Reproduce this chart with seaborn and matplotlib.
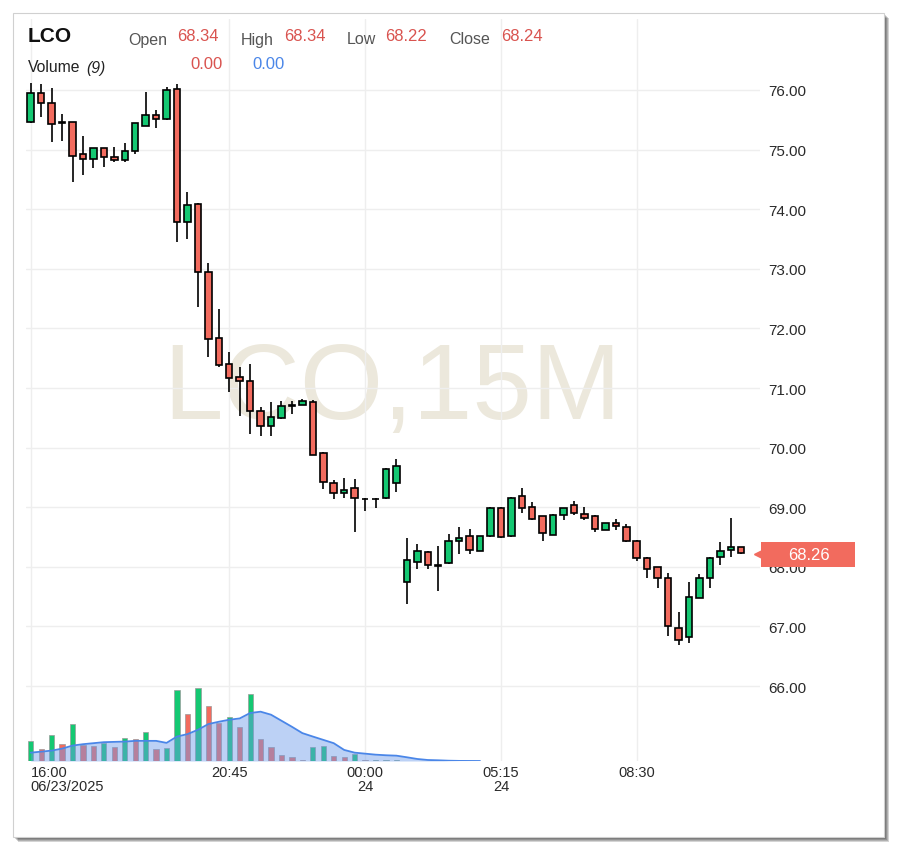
import numpy as np
import pandas as pd
import matplotlib
matplotlib.use("Agg")
import matplotlib.pyplot as plt
import matplotlib.transforms as mtransforms
from matplotlib.patches import Rectangle
import seaborn as sns

# 15 minute bars, LCO
opens = [75.47, 75.95, 75.78, 75.46, 75.46, 74.93, 74.85, 75.02, 74.88, 74.83,
         74.97, 75.40, 75.58, 75.51, 76.02, 73.78, 74.09, 72.95, 71.84, 71.40,
         71.19, 71.12, 70.61, 70.36, 70.49, 70.71, 70.72, 70.77, 69.91, 69.40,
         69.24, 69.32, 69.14, 69.14, 69.15, 69.40, 67.75, 68.08, 68.25, 68.03,
         68.06, 68.43, 68.52, 68.27, 68.51, 68.99, 68.51, 69.19, 69.01, 68.85,
         68.54, 68.87, 69.04, 68.89, 68.85, 68.62, 68.73, 68.66, 68.44, 68.15,
         67.99, 67.81, 66.97, 66.83, 67.48, 67.82, 68.17, 68.29, 68.34]
highs = [76.12, 76.10, 76.03, 75.60, 75.47, 75.22, 75.03, 75.03, 75.04, 75.11,
         75.45, 75.97, 75.67, 76.05, 76.10, 74.29, 74.10, 73.09, 72.33, 71.60,
         71.35, 71.41, 70.68, 70.77, 70.79, 70.79, 70.81, 70.80, 69.93, 69.45,
         69.49, 69.47, 69.15, 69.15, 69.65, 69.81, 68.49, 68.38, 68.26, 68.35,
         68.55, 68.66, 68.63, 68.52, 69.00, 69.00, 69.17, 69.33, 69.09, 68.86,
         68.88, 68.99, 69.10, 69.00, 68.87, 68.74, 68.80, 68.71, 68.45, 68.16,
         68.00, 67.89, 67.25, 67.75, 67.88, 68.16, 68.41, 68.82, 68.34]
lows = [75.45, 75.55, 75.13, 75.15, 74.45, 74.57, 74.69, 74.70, 74.79, 74.80,
        74.92, 75.40, 75.36, 75.50, 73.45, 73.50, 72.36, 71.52, 71.36, 70.93,
        70.53, 70.23, 70.20, 70.20, 70.48, 70.56, 70.71, 69.87, 69.31, 69.13,
        69.15, 68.59, 68.93, 68.98, 69.14, 69.26, 67.38, 67.97, 67.97, 67.59,
        68.05, 68.21, 68.21, 68.26, 68.50, 68.49, 68.50, 68.91, 68.79, 68.43,
        68.53, 68.79, 68.87, 68.79, 68.58, 68.61, 68.62, 68.42, 68.09, 67.81,
        67.65, 66.84, 66.69, 66.73, 67.47, 67.65, 68.03, 68.17, 68.22]
closes = [75.95, 75.78, 75.43, 75.44, 74.90, 74.85, 75.02, 74.87, 74.83, 74.98,
          75.44, 75.58, 75.51, 76.00, 73.78, 74.07, 72.95, 71.83, 71.39, 71.17,
          71.12, 70.61, 70.36, 70.52, 70.70, 70.70, 70.79, 69.88, 69.43, 69.24,
          69.29, 69.15, 69.13, 69.13, 69.64, 69.69, 68.11, 68.27, 68.03, 68.02,
          68.43, 68.49, 68.29, 68.51, 68.99, 68.50, 69.15, 68.98, 68.80, 68.57,
          68.87, 68.98, 68.91, 68.82, 68.63, 68.73, 68.68, 68.43, 68.14, 67.96,
          67.81, 67.01, 66.78, 67.49, 67.82, 68.15, 68.27, 68.34, 68.24]
volume = [20, 12, 26, 17, 37, 16, 15, 18, 14, 23,
          22, 29, 12, 13, 71, 47, 73, 55, 38, 44,
          34, 67, 22, 14, 6, 4, 1, 14, 15, 5,
          4, 7, 1, 1, 1, 1] + [0] * 33
vol_ma = [8.3, 9.3, 10.3, 12.3, 15.3, 16.7, 17.7, 18.7, 19.0, 19.3,
          20.0, 20.0, 20.0, 18.0, 24.3, 26.7, 31.0, 36.7, 39.0, 41.0,
          42.3, 47.7, 49.0, 46.0, 40.0, 34.0, 27.7, 24.3, 21.0, 17.7,
          11.0, 8.3, 7.3, 6.3, 5.7, 5.3, 3.7, 2.0, 1.0, 0.7,
          0.3, 0.1, 0.05, 0.0] + [np.nan] * 25
tick_pos = [0, 19, 32, 45, 58]
tick_labels = ["16:00\n06/23/2025", "20:45", "00:00\n24", "05:15\n24", "08:30"]
last_price = 68.26
header = [("Open", 68.34), ("High", 68.34), ("Low", 68.22), ("Close", 68.24)]

df = pd.DataFrame({"open": opens, "high": highs, "low": lows, "close": closes,
                   "volume": volume, "vol_ma": vol_ma})
df["i"] = np.arange(len(df))

GREEN = "#14c872"
RED = "#f26b5e"

sns.set_theme(style="white")
plt.rcParams["font.family"] = ["Liberation Sans", "DejaVu Sans"]

fig = plt.figure(figsize=(9, 8.54), dpi=100)

# card with drop shadow
for k in range(1, 6):
    fig.add_artist(Rectangle((13 / 900 + k / 900, 1 - 838 / 854 - k / 854), 871 / 900, 824 / 854,
                             transform=fig.transFigure, facecolor="black", alpha=0.17,
                             edgecolor="none", zorder=-3))
fig.add_artist(Rectangle((13 / 900, 1 - 838 / 854), 871 / 900, 824 / 854, transform=fig.transFigure,
                         facecolor="white", edgecolor="#d0d0d0", linewidth=0.8, zorder=-2))

ax = fig.add_axes([25.5 / 900, 92 / 854, 734 / 900, 742 / 854])
ax.set_facecolor("none")
ax.set_xlim(-0.5, 69.75)
ax.set_ylim(64.742, 77.191)

# candles
up = df["close"] >= df["open"]
body_col = np.where(up, GREEN, RED)
ax.vlines(df["i"], df["low"], df["high"], color="black", linewidth=1.2, zorder=2)
ax.bar(df["i"], (df["close"] - df["open"]).abs().clip(lower=0.01),
       bottom=df[["open", "close"]].min(axis=1), width=0.62,
       color=body_col, edgecolor="black", linewidth=1.2, zorder=3)

# watermark
ax.text(0.5, 0.5, "LCO,15M", transform=ax.transAxes, ha="center", va="center",
        fontsize=77, color="#ece8dc", zorder=0.3)

# volume pane
axv = ax.twinx()
axv.set_ylim(0, max(volume) * 10.1)
vol_col = [GREEN if j == 0 or volume[j] >= volume[j - 1] else RED for j in range(len(volume))]
axv.bar(df["i"], df["volume"], width=0.5, color=vol_col, edgecolor="#9a9a9a",
        linewidth=0.5, zorder=1)
axv.fill_between(df["i"], df["vol_ma"], 0, color="#6c9beb", alpha=0.45, linewidth=0, zorder=2)
sns.lineplot(x=df["i"], y=df["vol_ma"], ax=axv, color="#4a86e8", linewidth=1.3, zorder=3)
axv.set_yticks([])
axv.set_ylabel("")
axv.set_xlabel("")
for s in axv.spines.values():
    s.set_visible(False)

# price axis on the right (after twinx, which moves it left)
ax.yaxis.tick_right()
ax.set_yticks(np.arange(66, 77))
ax.set_yticklabels([f"{v:.2f}" for v in np.arange(66, 77)])
ax.set_xticks(tick_pos)
ax.set_xticklabels(tick_labels, linespacing=0.95)
ax.set_xlabel("")
lab0 = ax.get_xticklabels()[0]
lab0.set_horizontalalignment("left")
lab0.set_multialignment("left")
ax.tick_params(axis="y", length=0, pad=6, labelsize=11, labelcolor="#2a2a2a",
               left=False, labelleft=False, right=False, labelright=True)
ax.tick_params(axis="x", length=0, pad=3, labelsize=10.5, labelcolor="#2a2a2a")
ax.grid(True, color="#eeeeee", linewidth=1)
for s in ax.spines.values():
    s.set_visible(False)

# last price tag
tag_tr = mtransforms.blended_transform_factory(axv.transAxes, ax.transData)
tag_y = last_price - 0.05
axv.add_patch(Rectangle((1.0027, tag_y - 0.206), 0.128, 0.413, transform=tag_tr,
                        facecolor=RED, edgecolor="none", clip_on=False, zorder=5))
axv.plot([0.998], [tag_y], marker="<", markersize=6, color=RED, transform=tag_tr,
         clip_on=False, zorder=5)
axv.text(1.068, tag_y, f"{last_price:.2f}", transform=tag_tr,
         ha="center", va="center", color="white", fontsize=12, zorder=6)

# header
fig.text(28 / 900, 1 - 37 / 854, "LCO", fontsize=15, weight="bold", color="#111111", va="center")
label_x = [128, 240.5, 347, 449]
value_x = [177, 284, 385.5, 501]
for (name, val), lx, vx in zip(header, label_x, value_x):
    fig.text(lx / 900, 1 - 40 / 854, name, fontsize=11.5, color="#555555", va="center")
    fig.text(vx / 900, 1 - 36.5 / 854, f"{val:.2f}", fontsize=12, color="#d9534f", va="center")
fig.text(28 / 900, 1 - 68 / 854, "Volume", fontsize=11.3, color="#222222", va="center")
fig.text(86.5 / 900, 1 - 68 / 854, "(9)", fontsize=11.3, style="italic", color="#222222", va="center")
fig.text(190 / 900, 1 - 64.5 / 854, "0.00", fontsize=12, color="#d9534f", va="center")
fig.text(252 / 900, 1 - 64.5 / 854, "0.00", fontsize=12, color="#4a86e8", va="center")

fig.savefig("out.png", dpi=100, facecolor="white")
